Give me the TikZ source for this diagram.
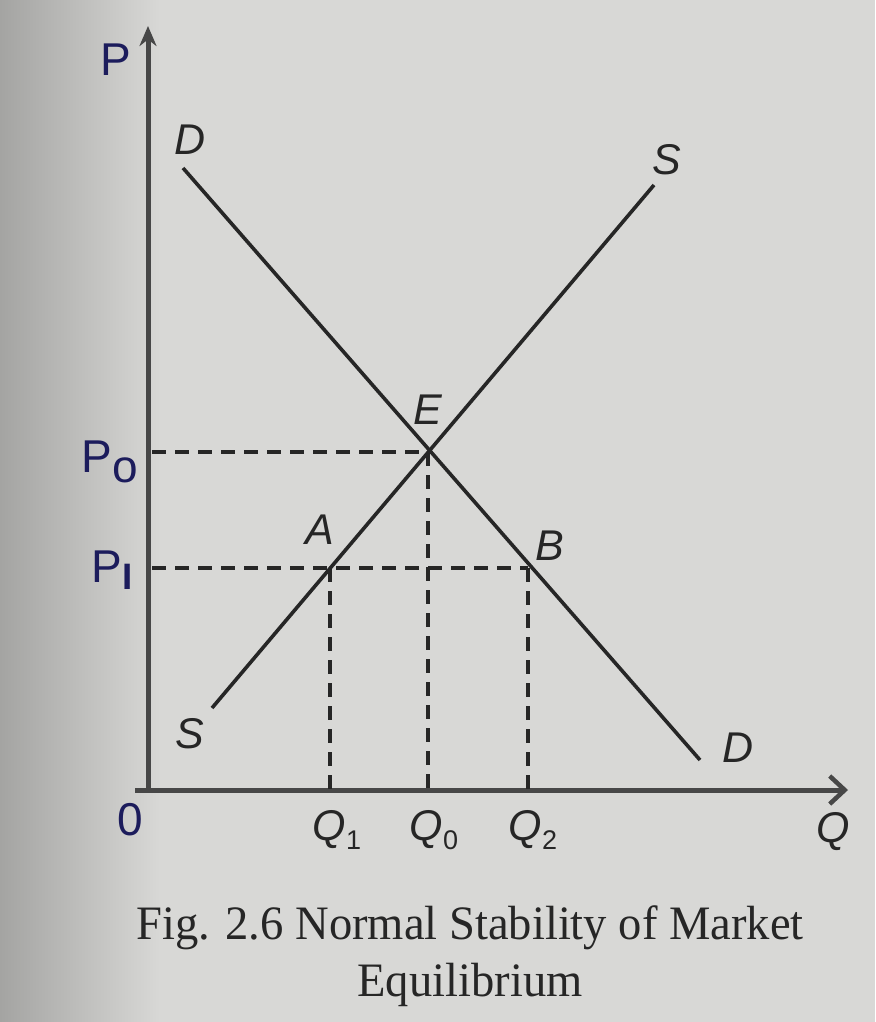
\documentclass[tikz,border=0pt]{standalone}
\usepackage{fontspec}
\setmainfont{Liberation Serif}
\setsansfont{Liberation Sans}
\usetikzlibrary{arrows.meta}
\definecolor{paper}{HTML}{D8D8D6}
\definecolor{paperdark}{HTML}{A4A4A2}
\definecolor{ink}{HTML}{262626}
\definecolor{pen}{HTML}{1C1C5C}
\tikzset{
  axis/.style={line width=5pt, draw=ink!85},
  curve/.style={line width=3.6pt, draw=ink},
  guide/.style={line width=3.2pt, draw=ink, dash pattern=on 14pt off 9pt},
  lab/.style={font=\fontsize{43}{43}\sffamily\itshape, text=ink, inner sep=0pt},
  hand/.style={font=\fontsize{46}{46}\sffamily, text=pen, inner sep=0pt},
  captext/.style={font=\fontsize{48}{48}\selectfont, text=ink, inner sep=0pt}
}
\newcommand{\subup}[1]{\raisebox{-9pt}{\fontsize{27}{27}\selectfont\upshape #1}}
\begin{document}
\begin{tikzpicture}[x=1pt,y=-1pt]
\useasboundingbox (0,0) rectangle (875,1022);
\fill[paper] (0,0) rectangle (875,1022);
\shade[left color=paperdark, right color=paper] (0,0) rectangle (160,1022);
% key points
\coordinate (O) at (148,790);
\coordinate (Ptop) at (148,26);
\coordinate (Qend) at (848,790);
\coordinate (D1) at (183,168);
\coordinate (D2) at (700,760);
\coordinate (S1) at (212,708);
\coordinate (S2) at (654,185);
\coordinate (E) at (428,452);
\coordinate (A) at (330,568);
\coordinate (B) at (528,568);
\coordinate (P0) at (152,452);
\coordinate (P1) at (152,568);
\coordinate (Q1) at (330,790);
\coordinate (Q0) at (428,790);
\coordinate (Q2) at (528,790);
% axes
\draw[axis, -{Stealth[length=20pt,width=17pt]}] (O) -- (Ptop);
\draw[axis, -{Straight Barb[length=15pt,width=28pt,line width=4.5pt]}] (135,790) -- (Qend);
% guides
\draw[guide] (P0) -- (E);
\draw[guide] (P1) -- (B);
\draw[guide] (A) -- (Q1);
\draw[guide] (E) -- (Q0);
\draw[guide] (B) -- (Q2);
% curves
\draw[curve] (D1) -- (D2);
\draw[curve] (S1) -- (S2);
% labels
\node[lab] (lD1) at (190,140) {D};
\node[lab] (lD2) at (738,748) {D};
\node[lab] (lS1) at (667,160) {S};
\node[lab] (lS2) at (190,734) {S};
\node[lab] (lE) at (428,410) {E};
\node[lab] (lA) at (320,530) {A};
\node[lab] (lB) at (550,546) {B};
\node[lab] (lQ1) at (337,830) {Q\subup{1}};
\node[lab] (lQ0) at (434,830) {Q\subup{0}};
\node[lab] (lQ2) at (533,830) {Q\subup{2}};
\node[lab] (lQ) at (833,832) {Q};
\node[hand] (l0) at (130,820) {0};
\node[hand] (lP) at (116,60) {P};
\node[hand] (lP0) at (110,462) {P\raisebox{-10pt}{o}};
\node[hand] (lP1) at (112,570) {P\raisebox{-7pt}{\scalebox{0.8}{\textbf{\sffamily I}}}};
% caption
\node[captext] (c1) at (470,928) {\scalebox{0.97}[1]{Fig. 2.6 Normal Stability of Market}};
\node[captext] (c2) at (470,985) {\scalebox{0.97}[1]{Equilibrium}};
\end{tikzpicture}
\end{document}
